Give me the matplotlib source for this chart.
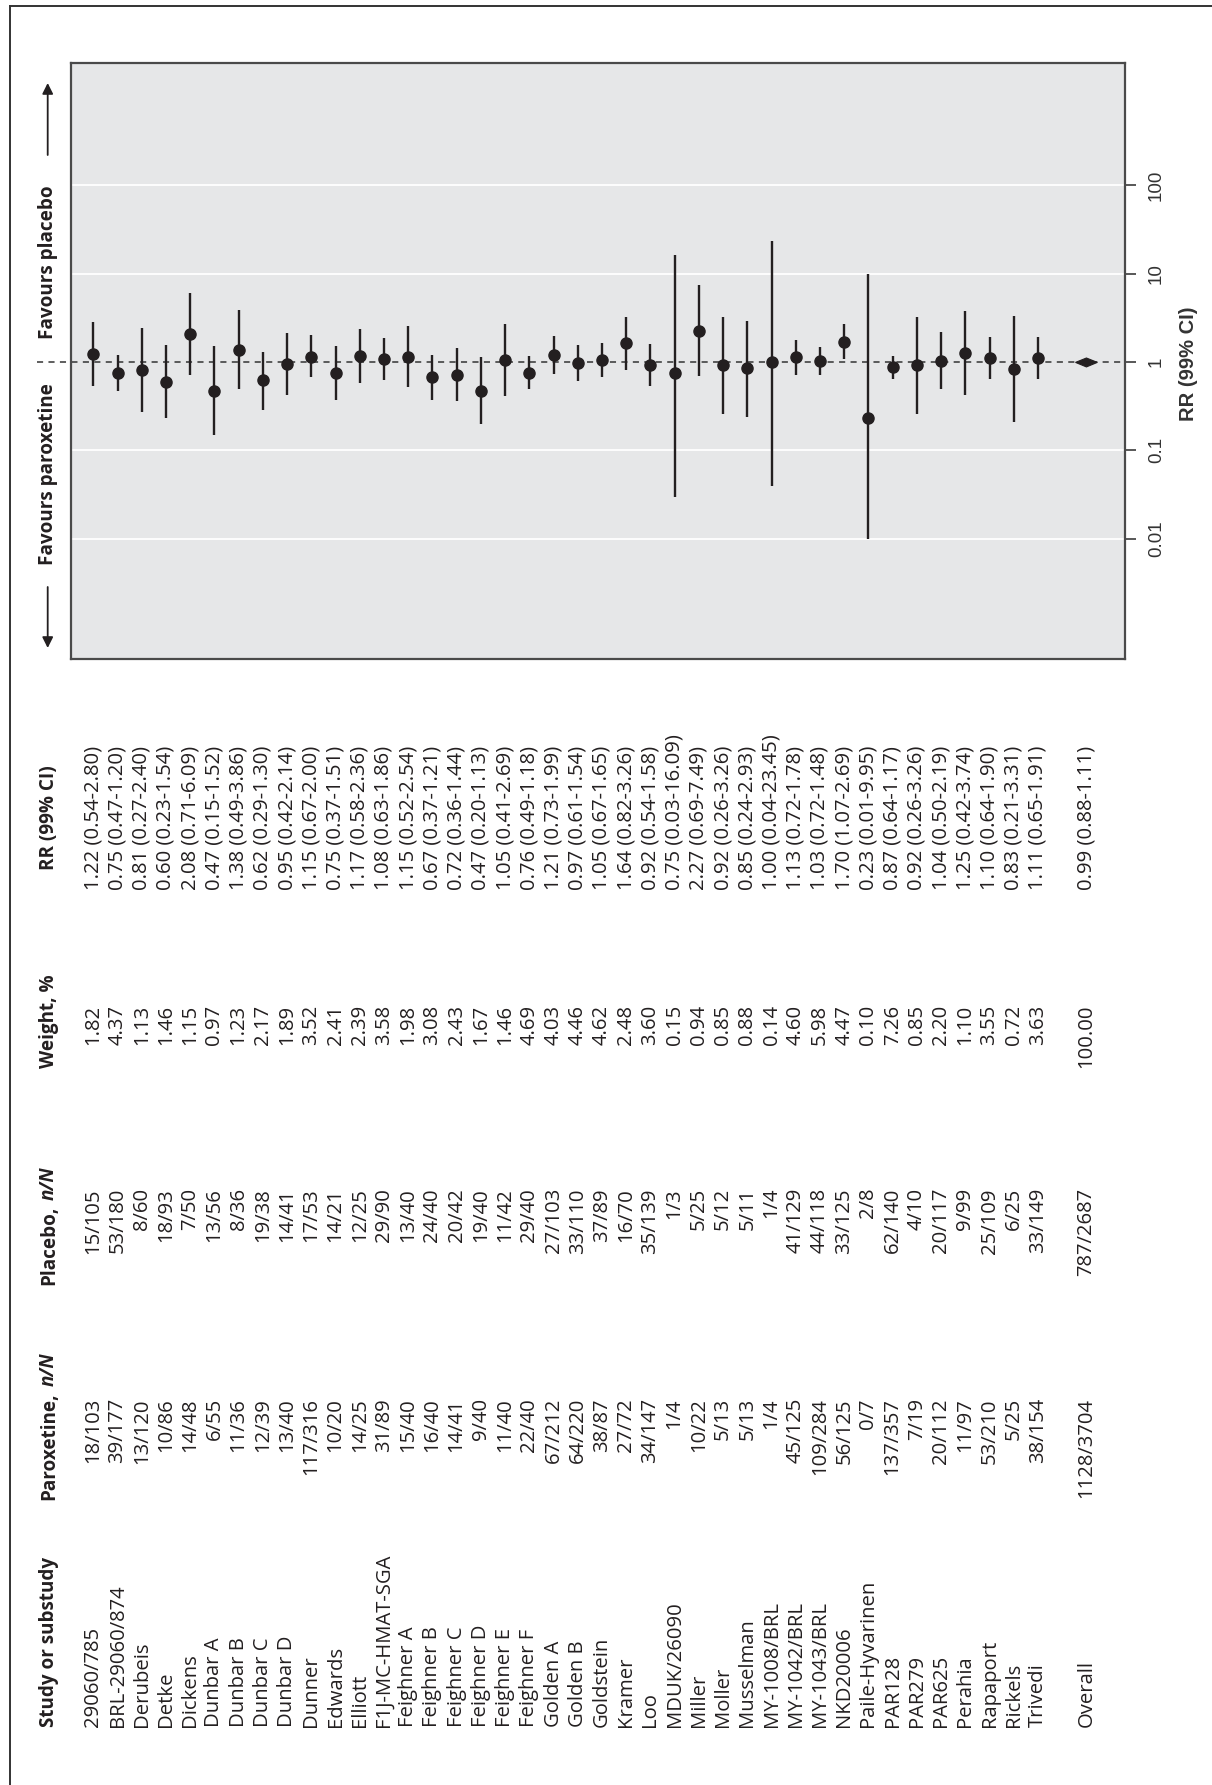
import matplotlib
matplotlib.use("Agg")
import matplotlib.pyplot as plt
from matplotlib.transforms import blended_transform_factory
from matplotlib.lines import Line2D
from matplotlib.patches import FancyArrowPatch, Polygon

studies = ["29060/785", "BRL-29060/874", "Derubeis", "Detke", "Dickens", "Dunbar A",
           "Dunbar B", "Dunbar C", "Dunbar D", "Dunner", "Edwards", "Elliott",
           "F1J-MC-HMAT-SGA", "Feighner A", "Feighner B", "Feighner C", "Feighner D",
           "Feighner E", "Feighner F", "Golden A", "Golden B", "Goldstein", "Kramer",
           "Loo", "MDUK/26090", "Miller", "Moller", "Musselman", "MY-1008/BRL",
           "MY-1042/BRL", "MY-1043/BRL", "NKD20006", "Paile-Hyvarinen", "PAR128",
           "PAR279", "PAR625", "Perahia", "Rapaport", "Rickels", "Trivedi"]
paroxetine = ["18/103", "39/177", "13/120", "10/86", "14/48", "6/55", "11/36", "12/39",
              "13/40", "117/316", "10/20", "14/25", "31/89", "15/40", "16/40", "14/41",
              "9/40", "11/40", "22/40", "67/212", "64/220", "38/87", "27/72", "34/147",
              "1/4", "10/22", "5/13", "5/13", "1/4", "45/125", "109/284", "56/125", "0/7",
              "137/357", "7/19", "20/112", "11/97", "53/210", "5/25", "38/154"]
placebo = ["15/105", "53/180", "8/60", "18/93", "7/50", "13/56", "8/36", "19/38", "14/41",
           "17/53", "14/21", "12/25", "29/90", "13/40", "24/40", "20/42", "19/40", "11/42",
           "29/40", "27/103", "33/110", "37/89", "16/70", "35/139", "1/3", "5/25", "5/12",
           "5/11", "1/4", "41/129", "44/118", "33/125", "2/8", "62/140", "4/10", "20/117",
           "9/99", "25/109", "6/25", "33/149"]
weight = [1.82, 4.37, 1.13, 1.46, 1.15, 0.97, 1.23, 2.17, 1.89, 3.52, 2.41, 2.39, 3.58,
          1.98, 3.08, 2.43, 1.67, 1.46, 4.69, 4.03, 4.46, 4.62, 2.48, 3.60, 0.15, 0.94,
          0.85, 0.88, 0.14, 4.60, 5.98, 4.47, 0.10, 7.26, 0.85, 2.20, 1.10, 3.55, 0.72, 3.63]
rr = [1.22, 0.75, 0.81, 0.60, 2.08, 0.47, 1.38, 0.62, 0.95, 1.15, 0.75, 1.17, 1.08, 1.15,
      0.67, 0.72, 0.47, 1.05, 0.76, 1.21, 0.97, 1.05, 1.64, 0.92, 0.75, 2.27, 0.92, 0.85,
      1.00, 1.13, 1.03, 1.70, 0.23, 0.87, 0.92, 1.04, 1.25, 1.10, 0.83, 1.11]
lo = [0.54, 0.47, 0.27, 0.23, 0.71, 0.15, 0.49, 0.29, 0.42, 0.67, 0.37, 0.58, 0.63, 0.52,
      0.37, 0.36, 0.20, 0.41, 0.49, 0.73, 0.61, 0.67, 0.82, 0.54, 0.03, 0.69, 0.26, 0.24,
      0.04, 0.72, 0.72, 1.07, 0.01, 0.64, 0.26, 0.50, 0.42, 0.64, 0.21, 0.65]
hi = [2.80, 1.20, 2.40, 1.54, 6.09, 1.52, 3.86, 1.30, 2.14, 2.00, 1.51, 2.36, 1.86, 2.54,
      1.21, 1.44, 1.13, 2.69, 1.18, 1.99, 1.54, 1.65, 3.26, 1.58, 16.09, 7.49, 3.26, 2.93,
      23.45, 1.78, 1.48, 2.69, 9.95, 1.17, 3.26, 2.19, 3.74, 1.90, 3.31, 1.91]
overall_label = "Overall"
overall_par = "1128/3704"
overall_pla = "787/2687"
overall_weight = 100.00
overall_rr, overall_lo, overall_hi = 0.99, 0.88, 1.11
rr_ticks = [0.01, 0.1, 1, 10, 100]
rr_ticklabels = ["0.01", "0.1", "1", "10", "100"]

W, H = 1212, 1785
fig = plt.figure(figsize=(W / 100, H / 100), dpi=100)
fig.patch.set_facecolor("white")

TXT = "#231f20"
BODY_FONT = ["Open Sans", "DejaVu Sans"]
BODY_SIZE = 14.6
HEAD_SIZE = 13.6


def fy(px):
    return 1 - px / H


def fx(px):
    return px / W


# main panel
left, right, top, bottom = 71, 1124.7, 62.7, 658.5
ax = fig.add_axes([fx(left), fy(bottom), (right - left) / W, (bottom - top) / H])
ax.set_facecolor("#e6e7e8")
ax.set_yscale("log")
ax.set_ylim(10 ** -3.354, 10 ** 3.386)
n = len(studies)
idx = list(range(n))
ov_x = n + 1
ax.set_xlim(-0.92, 42.58)
for s in ax.spines.values():
    s.set_color("#4a4a4a")
    s.set_linewidth(1.6)

for g in [0.01, 0.1, 10, 100]:
    ax.axhline(g, color="white", lw=1.3, zorder=1)

# reference line at RR = 1 (extends to the left of the panel)
btr = blended_transform_factory(ax.transAxes, ax.transData)
ax.add_line(Line2D([(37 - left) / (right - left), 1.0], [1, 1], transform=btr,
                   clip_on=False, color="#333333", lw=1.1, ls=(0, (4, 3.5)), zorder=2))

ax.vlines(idx, lo, hi, color="#231f20", lw=1.7, zorder=3)
ax.plot(idx, rr, "o", color="#231f20", ms=8.0, zorder=4)
ax.add_patch(Polygon([(ov_x, overall_lo), (ov_x + 0.45, overall_rr),
                      (ov_x, overall_hi), (ov_x - 0.45, overall_rr)],
                     closed=True, facecolor="#231f20", edgecolor="#231f20", lw=0.8, zorder=4))

# axis ticks on the right, labels drawn as rotated text
ax.set_xticks([])
ax.set_yticks(rr_ticks)
ax.minorticks_off()
ax.tick_params(axis="y", which="major", left=False, labelleft=False, right=True,
               labelright=False, length=8, width=1.3, color="#4a4a4a")
for v, lab in zip(rr_ticks, rr_ticklabels):
    ax.text((1148 - left) / (right - left), v, lab, transform=btr, rotation=90,
            ha="left", va="center", fontsize=13.5, family="Liberation Sans",
            color="#333333", clip_on=False)

fig.text(fx(1188), fy(364), "RR (99% CI)", rotation=90, ha="center", va="center",
         fontsize=14.5, fontweight="bold", family="Liberation Sans", color="#333333")

# favours labels and arrows
fig.text(fx(47.7), fy(262), "Favours placebo", rotation=90, ha="center", va="center",
         fontsize=HEAD_SIZE, fontweight="bold", family=BODY_FONT, color=TXT)
fig.text(fx(47.7), fy(474.5), "Favours paroxetine", rotation=90, ha="center", va="center",
         fontsize=HEAD_SIZE, fontweight="bold", family=BODY_FONT, color=TXT)
for y0, y1 in [(155, 83), (587, 648)]:
    fig.add_artist(FancyArrowPatch((fx(47.7), fy(y0)), (fx(47.7), fy(y1)),
                                   transform=fig.transFigure, arrowstyle="-|>",
                                   mutation_scale=16, lw=1.3, color=TXT,
                                   shrinkA=0, shrinkB=0))

# outer frame
fig.add_artist(Line2D([fx(10), 1.0], [fy(6), fy(6)], transform=fig.transFigure,
                      color="#333333", lw=1.4))
fig.add_artist(Line2D([fx(10), fx(10)], [fy(6), 0.0], transform=fig.transFigure,
                      color="#333333", lw=1.4))

# table
tr = blended_transform_factory(ax.transData, fig.transFigure)
hx = -1.83
kw = dict(transform=tr, rotation=90, ha="center", fontsize=BODY_SIZE,
          family=BODY_FONT, color=TXT)
hkw = dict(transform=tr, rotation=90, ha="center", fontsize=HEAD_SIZE,
           family=BODY_FONT, color=TXT, fontweight="bold")

ax.text(hx, fy(1727), "Study or substudy", va="bottom", **hkw)
t_par = ax.text(hx, fy(1500), "Paroxetine,", va="bottom", **hkw)
t_pla = ax.text(hx, fy(1285), "Placebo,", va="bottom", **hkw)
for t in (t_par, t_pla):
    ax.annotate("n/N", xy=(0.5, 1), xycoords=t, xytext=(0, 6), textcoords="offset pixels",
                rotation=90, ha="center", va="bottom", fontsize=HEAD_SIZE,
                family=BODY_FONT, color=TXT, fontweight="bold", fontstyle="italic")
ax.text(hx, fy(1068), "Weight, %", va="bottom", **hkw)
ax.text(hx, fy(870), "RR (99% CI)", va="bottom", **hkw)

rows = list(zip(idx, studies, paroxetine, placebo, weight, rr, lo, hi))
rows.append((ov_x, overall_label, overall_par, overall_pla, overall_weight,
             overall_rr, overall_lo, overall_hi))
for x, name, p, q, w, r, l, h in rows:
    ax.text(x, fy(1727), name, va="bottom", **kw)
    ax.text(x, fy(1398), p, va="top", **kw)
    ax.text(x, fy(1188), q, va="top", **kw)
    ax.text(x, fy(1005), f"{w:.2f}", va="top", **kw)
    ax.text(x, fy(890), f"{r:.2f} ({l:.2f}-{h:.2f})", va="bottom", **kw)

fig.savefig("out.png", dpi=100, facecolor="white")
